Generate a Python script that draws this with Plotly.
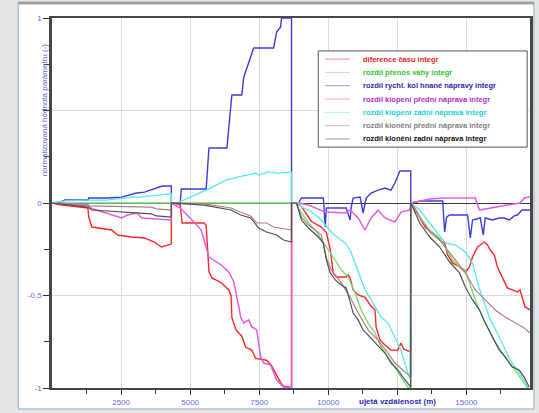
import plotly.graph_objects as go

# --- data: distance travelled [m] and normalised parameter value [-] ---
cas_x = [0, 290, 1300, 1330, 1440, 1730, 2160, 2370, 2880, 3350, 3700, 3960, 4140, 4320,
         4320, 4420, 4640, 4710, 5500, 5580, 5680, 5790, 6120, 6400, 6480, 6510, 6660, 6870, 7010, 7230, 7370, 7770, 7950, 8130, 8270, 8380, 8630, 8670,
         8670, 8850, 9030, 9390, 9750, 9930, 10070, 10180, 10290, 10650, 10720, 10790, 10900, 11080, 11330, 11510, 11690, 11730, 11870, 12050, 12270, 12520, 12630, 12730, 12985,
         12985, 13170, 13350, 13530, 13780, 14030, 14210, 14320, 14500, 14750, 14960, 15110, 15220, 15400, 15650, 15760, 15860, 16010, 16120, 16300, 16480, 16660, 16840, 16940, 17010, 17120, 17300]
cas_y = [0, -0.01, -0.027, -0.076, -0.13, -0.135, -0.146, -0.173, -0.184, -0.189, -0.211, -0.238, -0.23, -0.222,
         0, 0, -0.01, -0.108, -0.108, -0.12, -0.37, -0.405, -0.43, -0.47, -0.5, -0.62, -0.686, -0.72, -0.78, -0.795, -0.84, -0.85, -0.88, -0.93, -0.97, -0.99, -0.995, -1.0,
         0, 0, -0.02, -0.1, -0.13, -0.16, -0.25, -0.38, -0.4, -0.4, -0.39, -0.405, -0.47, -0.497, -0.51, -0.55, -0.578, -0.67, -0.74, -0.768, -0.795, -0.795, -0.757, -0.79, -0.805,
         0, -0.038, -0.092, -0.135, -0.162, -0.2, -0.216, -0.281, -0.324, -0.346, -0.373, -0.346, -0.292, -0.238, -0.211, -0.227, -0.254, -0.281, -0.346, -0.405, -0.459, -0.47, -0.481, -0.47, -0.508, -0.562, -0.578]

prenos_x = [0, 8810,
            8810, 9030, 9280, 9530, 9750, 10000, 10250, 10470, 10720, 10970, 11190, 11440, 11690, 11910, 12160, 12410, 12630, 12880, 12985,
            12985, 13310, 13670, 14030, 14240, 14500, 14750, 14960, 15110, 15320, 15580, 15830, 16040, 16300, 16550, 16760, 17010, 17190, 17300]
prenos_y = [0, 0,
            0, -0.054, -0.108, -0.146, -0.2, -0.254, -0.308, -0.362, -0.4, -0.486, -0.578, -0.649, -0.703, -0.778, -0.832, -0.886, -0.941, -0.995, -1.0,
            0, -0.081, -0.146, -0.189, -0.243, -0.308, -0.346, -0.362, -0.432, -0.524, -0.616, -0.686, -0.751, -0.811, -0.865, -0.903, -0.957, -1.0, -1.02]

rychl_x = [0, 290, 470, 1300, 1330, 1980, 2520, 2880, 3060, 3350, 3600, 3780, 3990, 4320,
           4320, 4640, 4680, 5580, 5680, 6330, 6510, 6870, 6940, 7050, 7300, 8020, 8130, 8270, 8310, 8670,
           8670, 8920, 9030, 9820, 9890, 9930, 10650, 10720, 10790, 10830, 10900, 11150, 11260, 11370, 11550, 11800, 12050, 12270, 12410, 12590, 12950, 12985,
           12985, 13350, 14140, 14210, 14280, 14390, 15040, 15110, 15140, 15220, 15500, 15610, 15680, 15940, 16190, 16370, 16550, 16730, 16840, 17010, 17300]
rychl_y = [0, 0.005, 0.016, 0.016, 0.027, 0.027, 0.032, 0.049, 0.054, 0.059, 0.07, 0.081, 0.092, 0.092,
           0, 0, 0.076, 0.076, 0.297, 0.297, 0.584, 0.584, 0.68, 0.73, 0.838, 0.838, 0.924, 0.95, 1.0, 1.0,
           0, 0, 0.027, 0.027, -0.13, -0.027, -0.027, -0.06, -0.092, -0.022, 0.027, 0.032, -0.054, 0.027, 0.054, 0.07, 0.081, 0.07, 0.108, 0.173, 0.173, 0.173,
           0, 0.011, 0.011, -0.157, -0.076, -0.065, -0.065, -0.146, -0.189, -0.092, -0.081, -0.173, -0.081, -0.092, -0.081, -0.081, -0.092, -0.07, -0.065, -0.038, -0.038]

klop_pred_x = [0, 1300, 1440, 2370, 2520, 2730, 3090, 3240, 4320,
               4320, 4640, 5140, 5400, 5680, 6120, 6400, 6580, 6660, 6830, 6940, 7120, 7230, 7410, 7550, 7660, 7910, 8130, 8380, 8670,
               8670, 8920, 9280, 9890, 10610, 10790, 11080, 11330, 11550, 11800, 12050, 12410, 12630, 12950,
               12985, 13350, 13670, 14140, 15320, 15470, 15830, 16480, 16940, 17090, 17300]
klop_pred_y = [0, -0.01, -0.03, -0.076, -0.081, -0.065, -0.054, -0.081, -0.092,
               0, -0.027, -0.103, -0.146, -0.292, -0.335, -0.373, -0.427, -0.486, -0.616, -0.649, -0.632, -0.67, -0.686, -0.832, -0.865, -0.876, -0.957, -0.995, -1.0,
               0, 0, -0.011, -0.049, -0.054, -0.038, -0.081, -0.146, -0.081, -0.038, -0.081, -0.103, -0.049, -0.038,
               0, 0.011, 0.022, 0.027, 0.027, -0.038, -0.027, -0.011, 0, 0.027, 0.032]

klop_zad_x = [0, 470, 1300, 1980, 2880, 3170, 4240, 4320,
              4320, 4600, 5580, 6300, 6760, 7120, 7370, 7480, 7840, 8200, 8630, 8670,
              8670, 8920, 9030, 9280, 9640, 9890, 10110, 10360, 10610, 10790, 10970, 11150, 11330, 11550, 11690, 11910, 12160, 12410, 12630, 12810, 12950,
              12985, 13310, 13670, 14030, 14240, 14600, 14960, 15220, 15400, 15650, 15860, 16120, 16370, 16580, 16840, 17090, 17270]
klop_zad_y = [0, 0.011, 0.016, 0.016, 0.032, 0.032, 0.049, 0.049,
              0, 0.005, 0.07, 0.124, 0.141, 0.151, 0.162, 0.151, 0.168, 0.162, 0.168, 0.168,
              0, 0, -0.022, -0.038, -0.076, -0.119, -0.157, -0.189, -0.216, -0.254, -0.324, -0.4, -0.47, -0.524, -0.562, -0.616, -0.649, -0.724, -0.795, -0.886, -0.951,
              0, -0.038, -0.108, -0.173, -0.216, -0.227, -0.265, -0.324, -0.432, -0.541, -0.632, -0.703, -0.778, -0.849, -0.903, -0.957, -1.01]

klon_pred_x = [0, 1300, 3600, 3780, 4320,
               4320, 5500, 6480, 6830, 7190, 7410, 7770, 8020, 8630, 8670,
               8670, 8850, 9030, 9280, 9750, 9930, 10110, 10470, 10790, 11080, 11440, 11800, 12160, 12410, 12700, 12985,
               12985, 13310, 13670, 14030, 14240, 14600, 14960, 15320, 15680, 16040, 16400, 16760, 17090, 17300]
klon_pred_y = [0, -0.016, -0.022, -0.032, -0.038,
               0, -0.005, -0.027, -0.05, -0.07, -0.108, -0.108, -0.13, -0.146, -0.146,
               0, 0, -0.076, -0.119, -0.173, -0.297, -0.362, -0.432, -0.51, -0.595, -0.686, -0.741, -0.811, -0.865, -0.903, -0.941,
               0, -0.076, -0.157, -0.2, -0.238, -0.308, -0.378, -0.47, -0.524, -0.578, -0.616, -0.649, -0.676, -0.703]

klon_zad_x = [0, 1300, 1440, 3600, 3780, 4320,
              4320, 5500, 6480, 6830, 7190, 7480, 7770, 8130, 8380, 8630, 8670,
              8670, 8850, 9030, 9280, 9640, 9820, 9930, 10070, 10250, 10470, 10650, 10790, 10900, 11080, 11260, 11440, 11620, 11800, 12050, 12270, 12520, 12700, 12880, 12985,
              12985, 13310, 13670, 14030, 14390, 14750, 14960, 15220, 15470, 15680, 15940, 16190, 16400, 16660, 16910, 17090, 17270]
klon_zad_y = [0, -0.022, -0.038, -0.059, -0.07, -0.076,
              0, -0.011, -0.038, -0.065, -0.081, -0.135, -0.157, -0.173, -0.2, -0.211, -0.211,
              0, 0, -0.092, -0.135, -0.184, -0.216, -0.308, -0.378, -0.416, -0.443, -0.459, -0.541, -0.595, -0.632, -0.686, -0.714, -0.741, -0.768, -0.811, -0.865, -0.903, -0.941, -0.973, -0.995,
              0, -0.108, -0.184, -0.238, -0.319, -0.378, -0.454, -0.524, -0.578, -0.649, -0.724, -0.795, -0.832, -0.886, -0.903, -0.941, -0.995]

series_names = [
    "diference času integr",
    "rozdíl přenos váhy integr",
    "rozdíl rychl. kol hnané nápravy integr",
    "rozdíl klopení přední náprava integr",
    "rozdíl klopení zadní náprava integr",
    "rozdíl klonění přední náprava integr",
    "rozdíl klonění zadní náprava integr",
]
series_x = [cas_x, prenos_x, rychl_x, klop_pred_x, klop_zad_x, klon_pred_x, klon_zad_x]
series_y = [cas_y, prenos_y, rychl_y, klop_pred_y, klop_zad_y, klon_pred_y, klon_zad_y]

line_colors = ["#ff2626", "#6fdc6f", "#3c3cdc", "#e25ce2", "#5ae6e6", "#b47f7f", "#505050"]
line_widths = [1.4, 1.3, 1.4, 1.5, 1.3, 1.2, 1.2]
label_colors = ["#e61c1c", "#2fbf2f", "#2626b4", "#b22ad6", "#22d2d2", "#808080", "#111111"]

x_tick_vals = [2500, 5000, 7500, 10000, 12500, 15000]
x_tick_text = ["2500", "5000", "7500", "10000", "", "15000"]
x_minor_vals = [1250, 3750, 6250, 8750, 11250, 13750, 16250]
y_tick_vals = [-1, -0.5, 0, 0.5, 1]
y_tick_text = ["-1", "-0.5", "0", "", "1"]
y_minor_vals = [-0.75, -0.25, 0.25, 0.75]

FONT = "Liberation Sans, Arial, sans-serif"
TICK_COLOR = "#6a6ae4"

fig = go.Figure()
for name, xv, yv, col, lw in zip(series_names, series_x, series_y, line_colors, line_widths):
    fig.add_trace(go.Scatter(x=xv, y=yv, mode="lines", name=name,
                             line=dict(color=col, width=lw), showlegend=False,
                             hoverinfo="skip"))

fig.update_layout(
    width=539, height=413,
    margin=dict(l=52, r=6, t=18, b=25),
    paper_bgcolor="#e6e6e6",
    plot_bgcolor="rgba(0,0,0,0)",
    showlegend=False,
    font=dict(family=FONT, size=8, color=TICK_COLOR),
)
fig.update_xaxes(
    range=[0, 17300], tickmode="array", tickvals=x_tick_vals, ticktext=x_tick_text,
    ticks="outside", ticklen=5, tickwidth=1, tickcolor="#333333",
    showline=True, linecolor="#474747", linewidth=2, mirror=True,
    showgrid=True, gridcolor="#dadada", gridwidth=1, zeroline=False,
    tickfont=dict(family=FONT, size=8, color=TICK_COLOR),
    minor=dict(tickmode="array", tickvals=x_minor_vals, ticks="outside", ticklen=4,
               tickcolor="#333333", showgrid=False),
)
fig.update_yaxes(
    range=[-1, 1], tickmode="array", tickvals=y_tick_vals, ticktext=y_tick_text,
    ticks="outside", ticklen=6, tickwidth=1, tickcolor="#333333",
    showline=True, linecolor="#474747", linewidth=2.5, mirror=True,
    showgrid=True, gridcolor="#dadada", gridwidth=1,
    zeroline=True, zerolinecolor="#3a3a3a", zerolinewidth=1,
    tickfont=dict(family=FONT, size=8, color=TICK_COLOR),
    minor=dict(tickmode="array", tickvals=y_minor_vals, ticks="outside", ticklen=5,
               tickcolor="#333333", showgrid=False),
)

# white panel behind the chart
fig.add_shape(type="rect", xref="paper", yref="paper", x0=-0.0707, x1=1.0083,
              y0=-0.057, y1=1.0405, fillcolor="#ffffff",
              line=dict(color="#aac4dd", width=1.5), layer="below")
fig.add_shape(type="line", xref="paper", yref="paper", x0=-0.0707, x1=1.0083,
              y0=1.0405, y1=1.0405, line=dict(color="#a0a0a0", width=3), layer="below")

# axis titles
fig.add_annotation(text="normalizovaná hodnota parametru (-)", xref="paper", yref="y",
                   x=-0.029, y=0.5, textangle=-90, showarrow=False,
                   font=dict(family=FONT, size=8, color="#6060d8"))
fig.add_annotation(text="<b>ujetá vzdálenost (m)</b>", xref="x", yref="paper",
                   x=12500, y=-0.037, yanchor="middle", showarrow=False,
                   font=dict(family=FONT, size=8, color="#2a2ab4"))

# legend box
lg_x0, lg_x1 = 0.557, 0.994
lg_y0, lg_y1 = 0.651, 0.911
fig.add_shape(type="rect", xref="paper", yref="paper", x0=lg_x0, x1=lg_x1, y0=lg_y0, y1=lg_y1,
              fillcolor="#ffffff", line=dict(color="#555555", width=1))
row_top = 0.889
row_step = 0.036
for i, (name, col, tcol) in enumerate(zip(series_names, line_colors, label_colors)):
    yy = row_top - i * row_step
    fig.add_shape(type="line", xref="paper", yref="paper", x0=0.571, x1=0.623, y0=yy, y1=yy,
                  line=dict(color=col, width=1), opacity=0.55)
    fig.add_annotation(text="<b>" + name + "</b>", xref="paper", yref="paper",
                       x=0.646, y=yy, xanchor="left", yanchor="middle", showarrow=False,
                       font=dict(family=FONT, size=7.5, color=tcol))

fig.write_html("out.html")
